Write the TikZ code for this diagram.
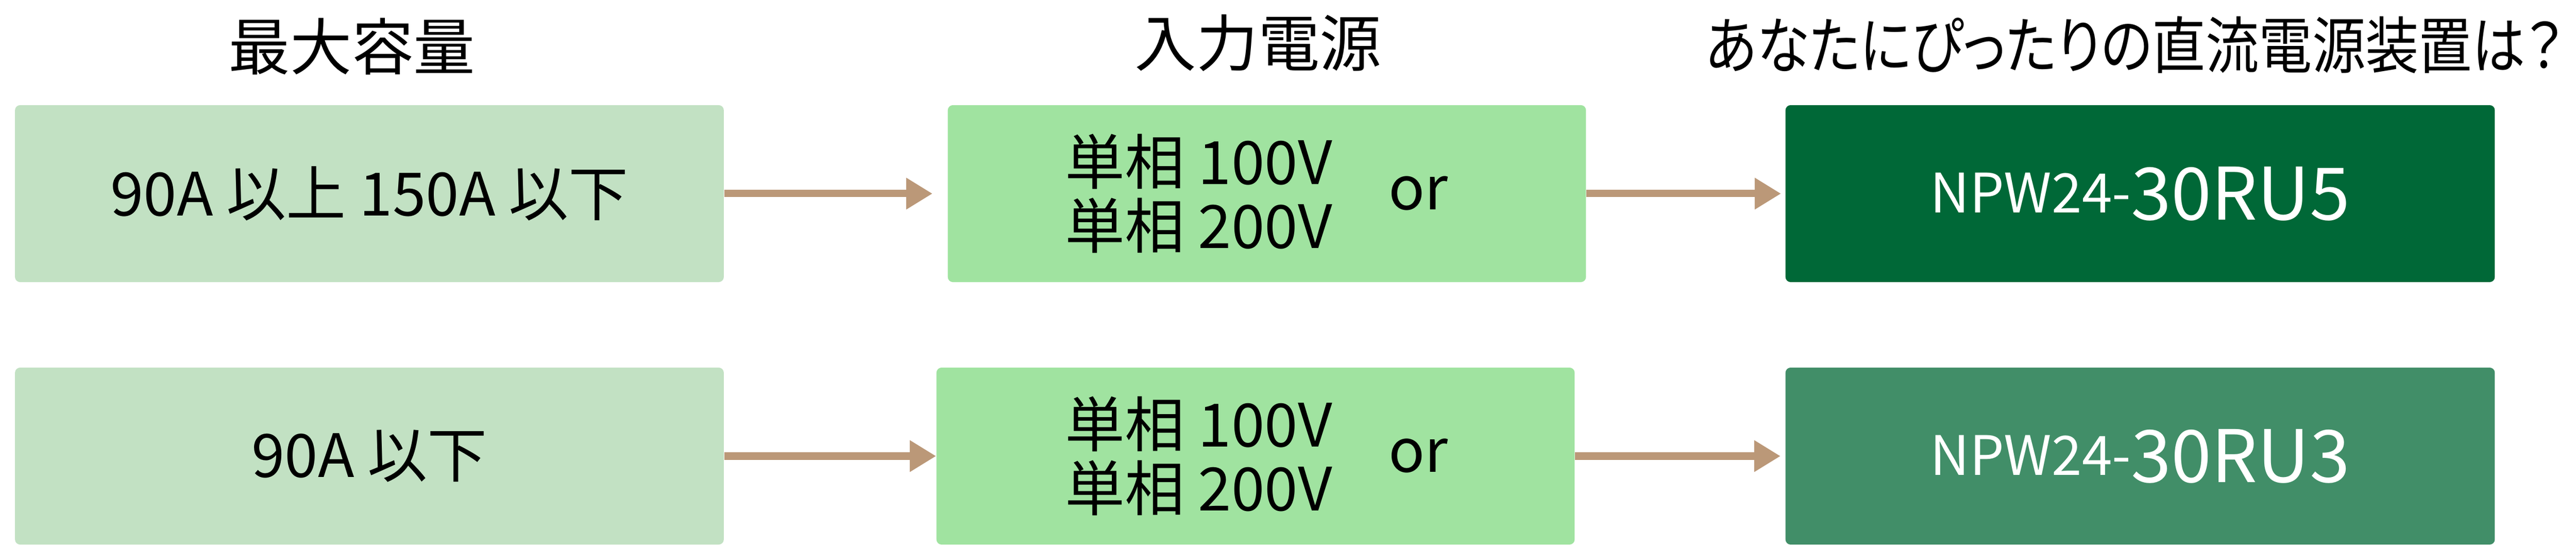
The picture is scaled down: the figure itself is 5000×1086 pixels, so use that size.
\documentclass[tikz,border=0pt]{standalone}
\usepackage{fontspec}
\usepackage{graphicx}
\setmainfont{Noto Sans CJK JP}[RawFeature=+palt]
\usetikzlibrary{arrows.meta}
\definecolor{capgreen}{HTML}{C2E1C3}
\definecolor{srcgreen}{HTML}{A0E3A0}
\definecolor{unitdark}{HTML}{006837}
\definecolor{unitmid}{HTML}{418E68}
\definecolor{flowtan}{HTML}{BB9878}
\tikzset{
  cellbox/.style={rounded corners=1mm,minimum height=3.43cm,inner sep=0pt},
  capbox/.style={cellbox,fill=capgreen,minimum width=13.75cm,font=\fontsize{33}{33}\selectfont},
  srcbox/.style={cellbox,fill=srcgreen,minimum width=12.38cm},
  unitbox/.style={cellbox,minimum width=13.76cm,text=white},
  volt/.style={font=\fontsize{33}{35.3}\selectfont,inner sep=0pt},
  head/.style={font=\fontsize{34}{34}\selectfont,inner sep=0pt},
  flow/.style={draw=flowtan,line width=0.14cm,-{Triangle[length=0.51cm,width=0.58cm]}}
}
\newcommand{\npw}[1]{\raisebox{0.14cm}{\fontsize{30}{30}\selectfont NPW24-}{\fontsize{40}{40}\selectfont #1}}
\begin{document}
\begin{tikzpicture}[x=0.01cm,y=-0.01cm]
    \useasboundingbox (0,0) rectangle (5000,1086);
    % column heads
    \node[head] (hcap) at (683,90) {最大容量};
    \node[head] (hsrc) at (2442,83) {入力電源};
    \node[head] (hunit) at (4143,87) {\resizebox{16.65cm}{\height}{あなたにぴったりの直流電源装置は？}};

    % upper row
    \node[capbox] (cap1) at (717,375.5) {90A 以上 150A 以下};
    \node[srcbox] (src1) at (2459,375.5) {};
    \node[volt,anchor=west,align=left] (v1) at (2067,375) {単相 100V\\単相 200V};
    \node[volt] (or1) at (2753,375) {or};
    \node[unitbox,fill=unitdark] (unit1) at (4154,375.5) {\npw{30RU5}};
    \draw[flow] (cap1.east) -- ([xshift=-0.29cm]src1.west);
    \draw[flow] (src1.east) -- ([xshift=-0.08cm]unit1.west);

    % lower row
    \node[capbox] (cap2) at (717,884.5) {90A 以下};
    \node[srcbox] (src2) at (2437,884.5) {};
    \node[volt,anchor=west,align=left] (v2) at (2067,884) {単相 100V\\単相 200V};
    \node[volt] (or2) at (2753,884) {or};
    \node[unitbox,fill=unitmid] (unit2) at (4154,884.5) {\npw{30RU3}};
    \draw[flow] (cap2.east) -- (src2.west);
    \draw[flow] (src2.east) -- ([xshift=-0.09cm]unit2.west);

  \end{tikzpicture}
\end{document}
